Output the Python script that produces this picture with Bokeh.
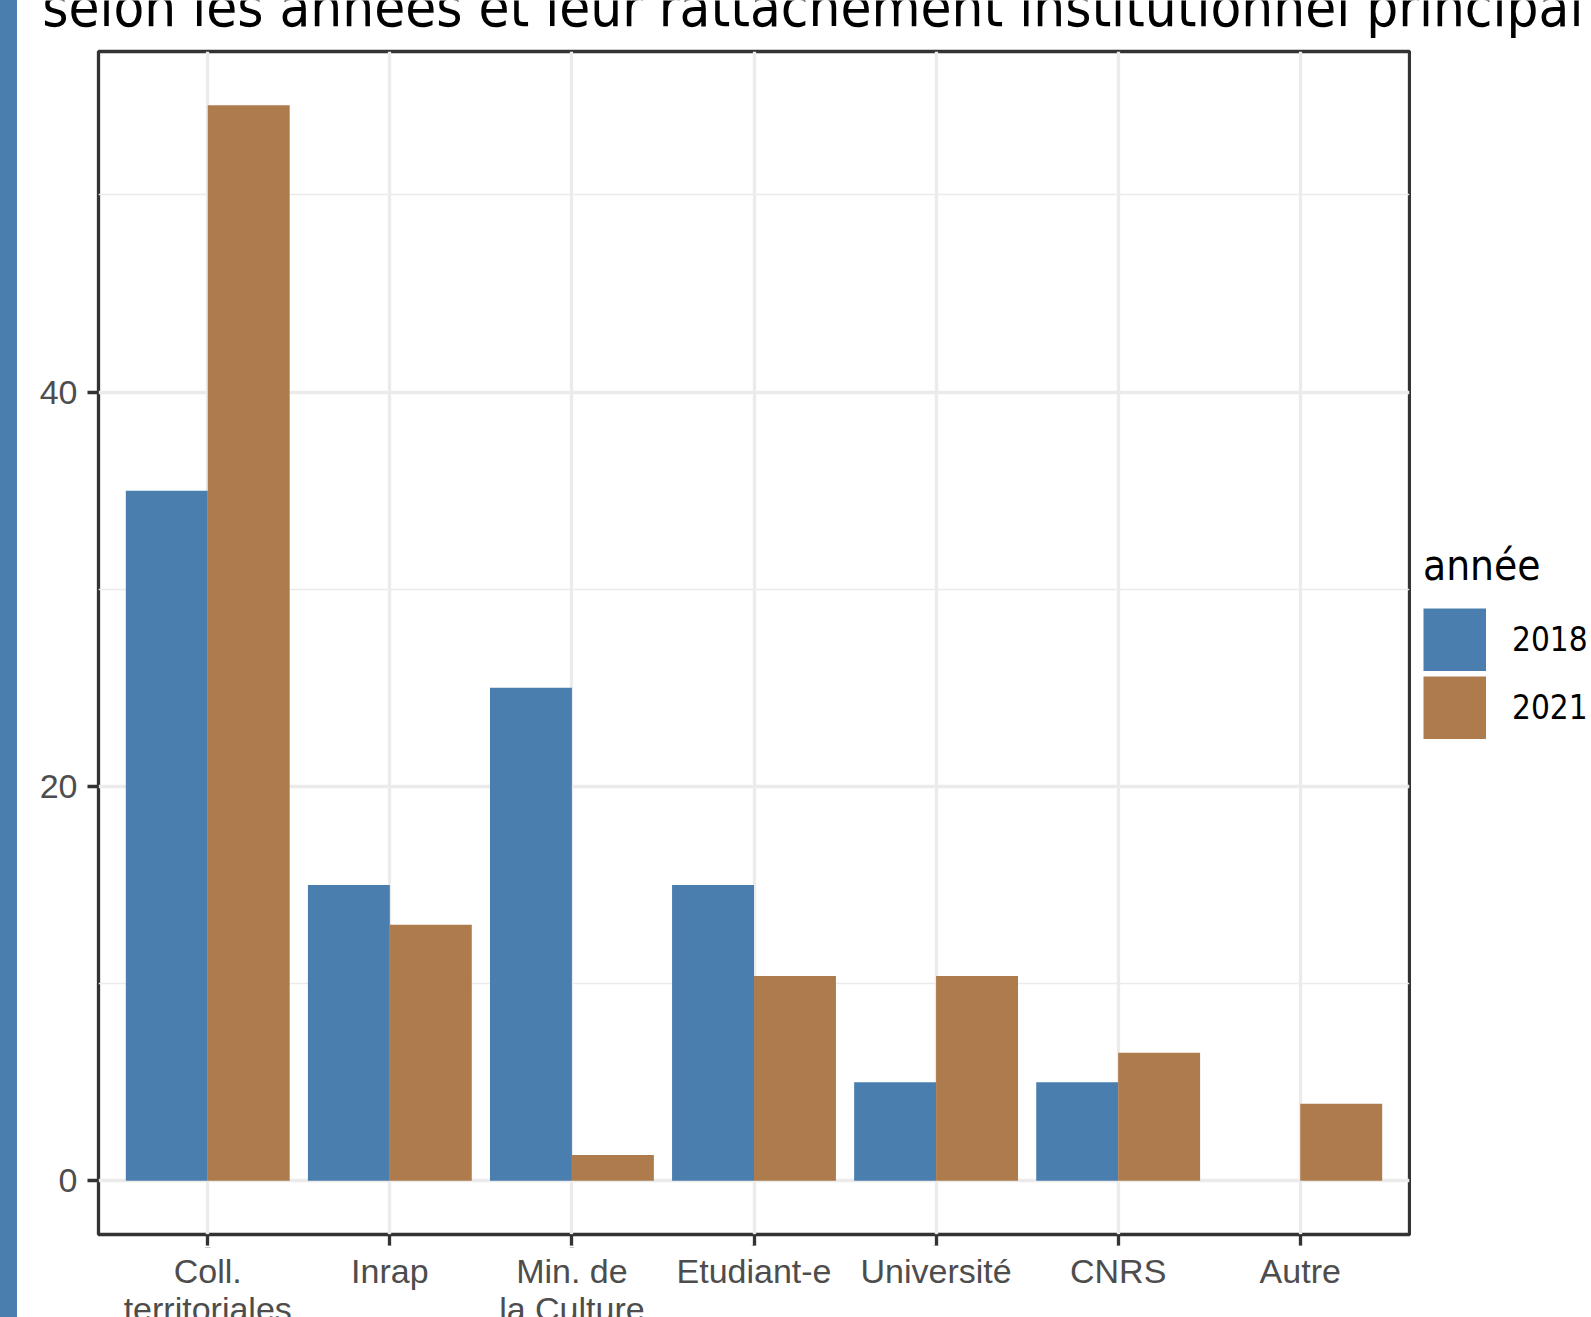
from bokeh.plotting import figure
from bokeh.models import (ColumnDataSource, FactorRange, Range1d, FixedTicker,
                          Legend, LegendItem, Div)
from bokeh.transform import dodge
from bokeh.layouts import row, column
from bokeh.embed import file_html
from bokeh.resources import INLINE
from bokeh.core.properties import value

# ---- data ----
categories = ["Coll.\nterritoriales", "Inrap", "Min. de\nla Culture", "Etudiant-e",
              "Université", "CNRS", "Autre"]
years = ["2018", "2021"]
values_2018 = [35.0, 15.0, 25.0, 15.0, 5.0, 5.0, 0.0]
values_2021 = [54.55, 12.99, 1.30, 10.39, 10.39, 6.49, 3.90]
y_ticks = [0, 20, 40]
y_minor_ticks = [10, 30, 50]
title_text = "selon les années et leur rattachement institutionnel principal"
legend_title = "année"

BLUE = "#4A7EAE"
BROWN = "#AE7B4D"
GRID = "#EBEBEB"
DARK = "#333333"
TICKTXT = "#4D4D4D"
TITLE_FONT = "DejaVu Sans Condensed"
TICK_FONT = "Liberation Sans"

ymax = max(values_2018 + values_2021)
y_lo, y_hi = -0.05 * ymax, 1.05 * ymax

STRIP_W = 17
W = 1591 - STRIP_W          # 1574
TITLE_H = 40
ML, MR = 81, 2
FRAME_W = 1311
P_W = ML + FRAME_W + MR     # 1394
LEG_W = W - P_W             # 180
P_TOP, FRAME_H, P_BOT = 11, 1185, 14
P_H = P_TOP + FRAME_H + P_BOT
XLAB_H = 1317 - TITLE_H - P_H


def no_align(fig):
    try:
        fig.frame_align = False
    except Exception:
        pass


def bare(fig):
    fig.outline_line_color = None
    fig.grid.visible = False
    fig.background_fill_color = None
    fig.border_fill_color = "white"


# ---- title strip (text cut at the top, as in the reference) ----
pt = figure(width=W, height=TITLE_H, x_range=Range1d(0, W), y_range=Range1d(-TITLE_H, 0),
            x_axis_location=None, y_axis_location=None, output_backend="svg",
            toolbar_location=None, min_border=0, min_border_left=0, min_border_right=0,
            min_border_top=0, min_border_bottom=0)
no_align(pt)
bare(pt)
pt.text(x=[41.7 - STRIP_W], y=[27], text=[title_text], text_font=value(TITLE_FONT),
        text_font_size=value("56px"), text_color="black", text_baseline="top",
        text_align="left")

# ---- main plot ----
p = figure(x_range=FactorRange(factors=categories, range_padding=0.1,
                               range_padding_units="absolute"),
           y_range=Range1d(y_lo, y_hi),
           width=P_W, height=P_H, min_border_left=ML, min_border_right=MR,
           min_border_top=P_TOP, min_border_bottom=P_BOT,
           output_backend="svg", toolbar_location=None)
no_align(p)
p.background_fill_color = "white"
p.border_fill_color = "white"

src = ColumnDataSource(dict(cat=categories, y2018=values_2018, y2021=values_2021))
p.vbar(x=dodge("cat", -0.225, range=p.x_range), top="y2018", width=0.45,
       source=src, fill_color=BLUE, line_color=None)
p.vbar(x=dodge("cat", 0.225, range=p.x_range), top="y2021", width=0.45,
       source=src, fill_color=BROWN, line_color=None)

for ax in (p.xaxis, p.yaxis):
    ax.axis_line_color = None
    ax.major_tick_line_color = DARK
    ax.major_tick_line_width = 3.3
    ax.major_tick_out = 11
    ax.major_tick_in = 0
    ax.minor_tick_line_color = None

p.yaxis.ticker = FixedTicker(ticks=y_ticks, minor_ticks=y_minor_ticks)
p.yaxis.major_label_text_font = TICK_FONT
p.yaxis.major_label_text_font_size = "34px"
p.yaxis.major_label_text_color = TICKTXT
p.yaxis.major_label_standoff = 10

# x tick labels are drawn in the strip below (so they can be cut at the page bottom)
p.xaxis.major_label_overrides = {c: "" for c in categories}
p.xaxis.major_label_text_font_size = "1px"
p.xaxis.major_label_standoff = 0

p.xgrid.grid_line_color = GRID
p.xgrid.grid_line_width = 3.3
p.ygrid.grid_line_color = GRID
p.ygrid.grid_line_width = 3.3
p.ygrid.minor_grid_line_color = GRID
p.ygrid.minor_grid_line_width = 1.65

p.outline_line_color = DARK
p.outline_line_width = 3.3

# ---- legend panel (its own small figure to the right of the plot) ----
pl = figure(width=LEG_W, height=P_H, x_range=Range1d(0, 1), y_range=Range1d(0, 1),
            x_axis_location=None, y_axis_location=None, output_backend="svg",
            toolbar_location=None, min_border=0, min_border_left=0, min_border_right=0,
            min_border_top=0, min_border_bottom=0)
no_align(pl)
bare(pl)
# key glyphs: thick butt-capped lines kept outside the visible range,
# so that each legend key is a full square of the year's colour
key_src = ColumnDataSource(dict(x=[2, 3], y=[2, 2]))
k1 = pl.line(x="x", y="y", source=key_src, line_color=BLUE, line_width=63,
             line_cap="butt")
k2 = pl.line(x="x", y="y", source=key_src, line_color=BROWN, line_width=63,
             line_cap="butt")

legend = Legend(items=[LegendItem(label=years[0], renderers=[k1]),
                       LegendItem(label=years[1], renderers=[k2])],
                location=(12, 511), title=legend_title)
legend.title_text_font = TITLE_FONT
legend.title_text_font_size = "42px"
legend.title_text_font_style = "normal"
legend.title_text_color = "black"
legend.title_standoff = 18
legend.label_text_font = TITLE_FONT
legend.label_text_font_size = "33px"
legend.label_text_color = "black"
legend.glyph_width = 63
legend.glyph_height = 63
legend.spacing = 5
legend.label_standoff = 26
legend.padding = 0
legend.margin = 0
legend.border_line_color = None
legend.background_fill_alpha = 0
pl.add_layout(legend)

# ---- x tick labels strip (shares the categorical x range) ----
px = figure(width=P_W, height=XLAB_H, x_range=p.x_range, y_range=Range1d(-XLAB_H, 0),
            x_axis_location=None, y_axis_location=None, output_backend="svg",
            toolbar_location=None, min_border_left=ML, min_border_right=MR,
            min_border_top=0, min_border_bottom=0)
no_align(px)
bare(px)
lab_src = ColumnDataSource(dict(cat=categories, y=[0] * len(categories)))
px.text(x="cat", y="y", text="cat", source=lab_src, text_align="center",
        text_baseline="top", y_offset=1, text_font=value(TICK_FONT),
        text_font_size=value("34px"), text_color=TICKTXT, text_line_height=1.0)

strip = Div(width=STRIP_W, height=1317, margin=(0, 0, 0, 0),
            styles={"background-color": BLUE})

layout = row(strip, column(pt, row(p, pl), px))
open("out.html", "w").write(file_html(layout, INLINE))
